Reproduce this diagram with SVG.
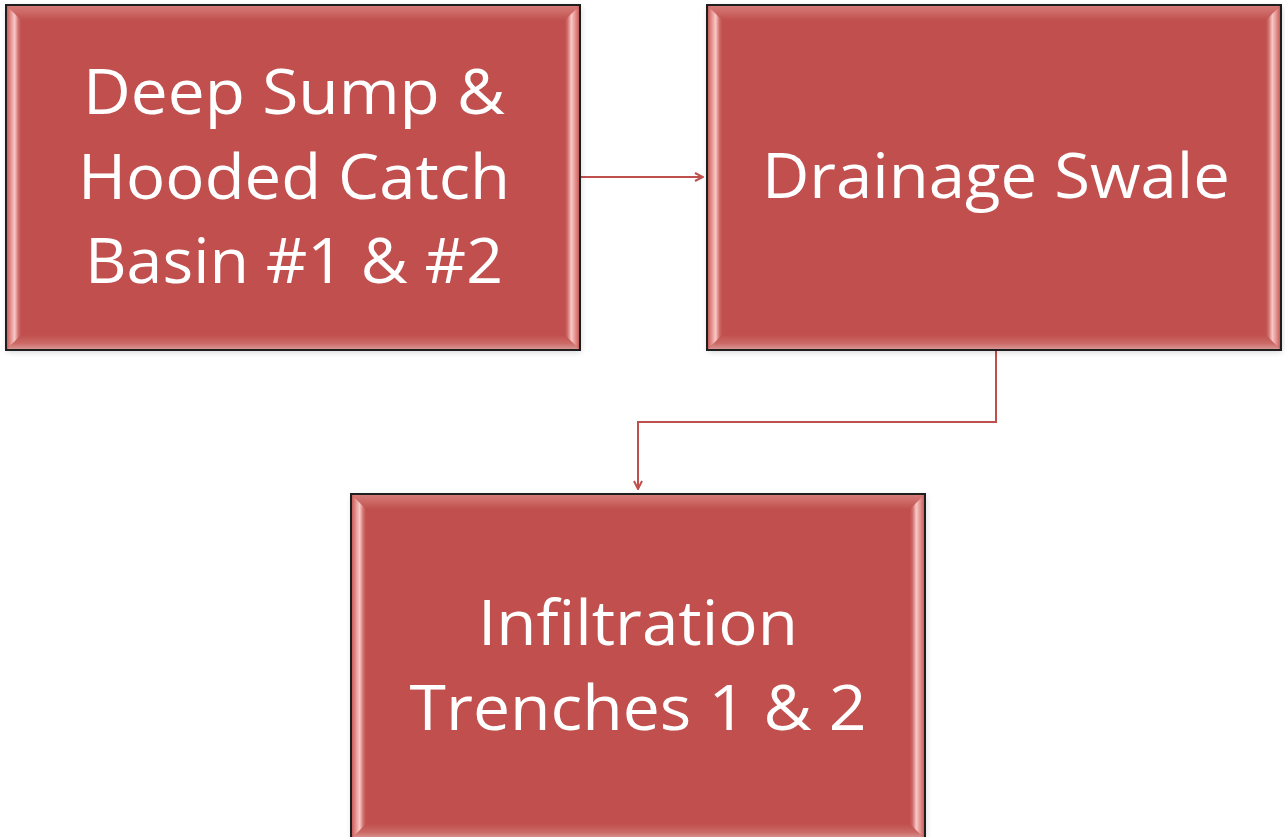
<svg xmlns="http://www.w3.org/2000/svg" xmlns:xlink="http://www.w3.org/1999/xlink" width="1285" height="837" viewBox="0 0 1285 837">
  <style>
    .lbl { font-family: "Open Sans", "Noto Sans", "Liberation Sans", sans-serif; font-size: 63px; fill: #FFFFFF; text-anchor: middle; }
    .conn { fill: none; stroke: #C0504D; stroke-width: 2; }
  </style>
  <defs>
    <filter id="shadow" x="-5%" y="-5%" width="110%" height="110%">
      <feGaussianBlur in="SourceAlpha" stdDeviation="3"/>
      <feOffset dx="1" dy="2" result="b"/>
      <feComponentTransfer><feFuncA type="linear" slope="0.18"/></feComponentTransfer>
      <feMerge><feMergeNode/><feMergeNode in="SourceGraphic"/></feMerge>
    </filter>
    <linearGradient id="gL" x1="0" y1="0" x2="1" y2="0">
      <stop offset="0" stop-color="#C95E5B"/>
      <stop offset="0.3" stop-color="#E79996"/>
      <stop offset="0.55" stop-color="#F7C9C7"/>
      <stop offset="0.8" stop-color="#D2716E"/>
      <stop offset="1" stop-color="#C0504D"/>
    </linearGradient>
    <linearGradient id="gR" x1="1" y1="0" x2="0" y2="0">
      <stop offset="0" stop-color="#C95E5B"/>
      <stop offset="0.3" stop-color="#E79996"/>
      <stop offset="0.55" stop-color="#F7C9C7"/>
      <stop offset="0.8" stop-color="#D2716E"/>
      <stop offset="1" stop-color="#C0504D"/>
    </linearGradient>
    <linearGradient id="gT" x1="0" y1="0" x2="0" y2="1">
      <stop offset="0" stop-color="#D47A77"/>
      <stop offset="0.5" stop-color="#CC6764"/>
      <stop offset="1" stop-color="#C0504D"/>
    </linearGradient>
    <linearGradient id="gB" x1="0" y1="0" x2="0" y2="1">
      <stop offset="0" stop-color="#C0504D"/>
      <stop offset="0.6" stop-color="#CB6A67"/>
      <stop offset="1" stop-color="#D99592"/>
    </linearGradient>
    <g id="box">
      <rect x="0" y="0" width="574" height="345" fill="#C0504D" filter="url(#shadow)"/>
      <polygon points="1,1 573,1 559,15 15,15" fill="url(#gT)"/>
      <polygon points="1,344 573,344 559,330 15,330" fill="url(#gB)"/>
      <polygon points="1,1 15,15 15,330 1,344" fill="url(#gL)"/>
      <polygon points="573,1 559,15 559,330 573,344" fill="url(#gR)"/>
      <rect x="0" y="0" width="574" height="345" fill="none" stroke="#1E1E1E" stroke-width="2"/>
    </g>
    <marker id="arrow" viewBox="0 0 10 10" refX="9" refY="5" markerWidth="5" markerHeight="5" orient="auto" markerUnits="strokeWidth">
      <path d="M1,1 L9,5 L1,9" fill="none" stroke="#C0504D" stroke-width="2"/>
    </marker>
  </defs>
  <rect x="0" y="0" width="1285" height="837" fill="#FFFFFF"/>

  <g id="connectors">
    <path class="conn" d="M580,177 L703,177" marker-end="url(#arrow)"/>
    <path class="conn" d="M996,351 L996,422 L638,422 L638,489" marker-end="url(#arrow)"/>
  </g>

  <g id="node-catch-basin">
    <use xlink:href="#box" x="6" y="5"/>
    <text class="lbl" x="294" y="114" textLength="422" lengthAdjust="spacingAndGlyphs">Deep Sump &amp;</text>
    <text class="lbl" x="294" y="199" textLength="432" lengthAdjust="spacingAndGlyphs">Hooded Catch</text>
    <text class="lbl" x="294" y="283" textLength="418" lengthAdjust="spacingAndGlyphs">Basin #1 &amp; #2</text>
  </g>

  <g id="node-drainage-swale">
    <use xlink:href="#box" x="707" y="5"/>
    <text class="lbl" x="996" y="198" textLength="468" lengthAdjust="spacingAndGlyphs">Drainage Swale</text>
  </g>

  <g id="node-infiltration">
    <use xlink:href="#box" x="351" y="494"/>
    <text class="lbl" x="638" y="645" textLength="320" lengthAdjust="spacingAndGlyphs">Infiltration</text>
    <text class="lbl" x="638" y="730" textLength="457" lengthAdjust="spacingAndGlyphs">Trenches 1 &amp; 2</text>
  </g>
</svg>
